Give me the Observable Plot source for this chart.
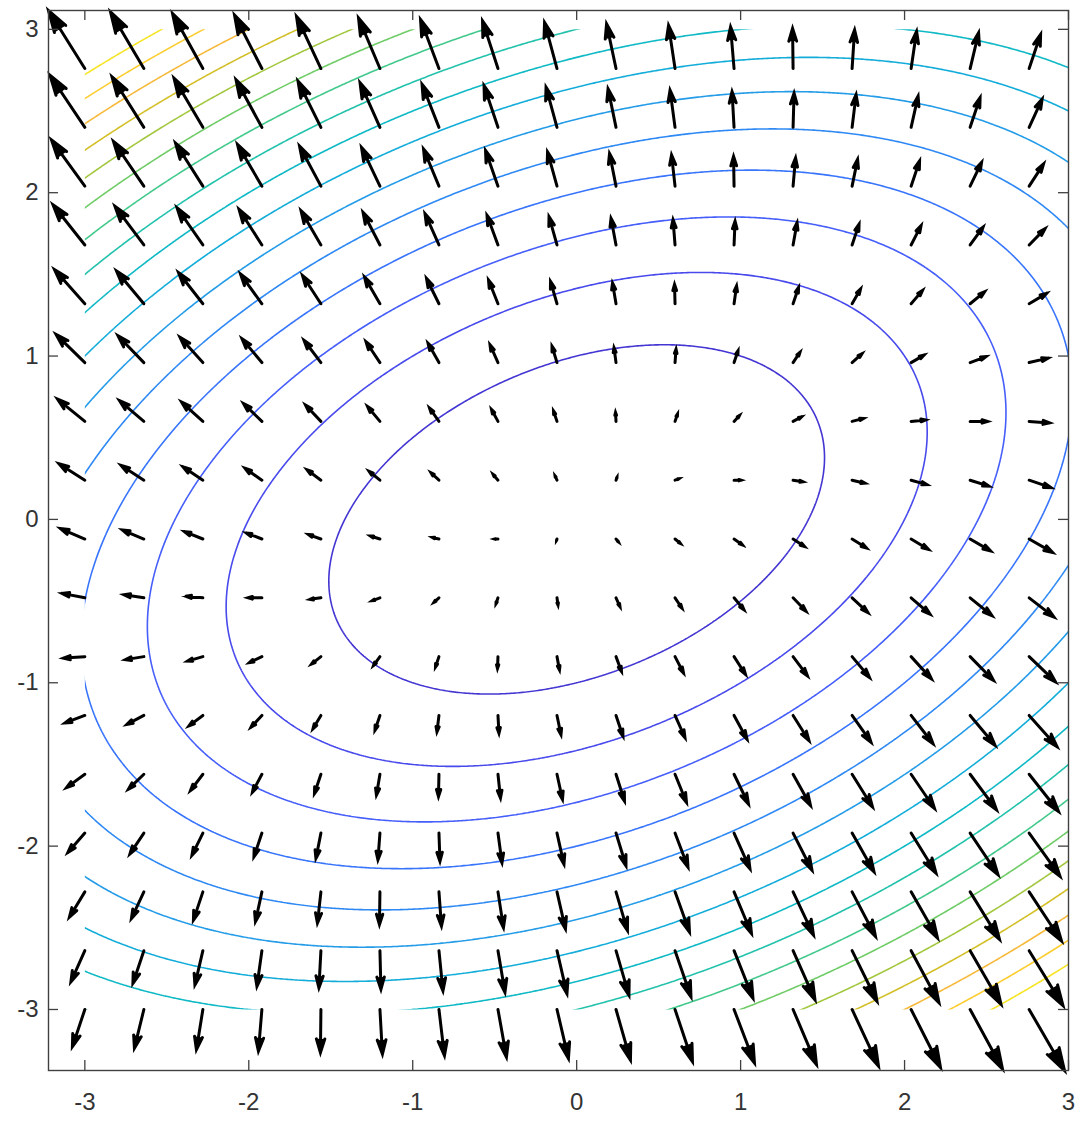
<!DOCTYPE html>
<html>
<head>
<meta charset="utf-8">
<script src="https://cdn.jsdelivr.net/npm/d3@7"></script>
<script src="https://cdn.jsdelivr.net/npm/@observablehq/plot@0.6"></script>
<style>
  html, body { margin: 0; padding: 0; background: #ffffff; }
  #chart svg { display: block; }
</style>
</head>
<body>
<div id="chart"></div>
<script>
// ---- data ----
// quiver grid (arrow tails): -3 : 0.36 : 2.76 in both directions
const xGrid = [-3, -2.64, -2.28, -1.92, -1.56, -1.2, -0.84, -0.48, -0.12, 0.24, 0.6, 0.96, 1.32, 1.68, 2.04, 2.4, 2.76];
const yGrid = [-3, -2.64, -2.28, -1.92, -1.56, -1.2, -0.84, -0.48, -0.12, 0.24, 0.6, 0.96, 1.32, 1.68, 2.04, 2.4, 2.76];
// surface z = a*x^2 + b*x*y + c*y^2 (contours and gradient arrows)
const coefA = 1;
const coefB = -1;
const coefC = 2;
// contour levels
const levels = [2, 4, 6, 8, 10, 12, 14, 16, 18, 20, 22, 24, 26, 28, 30, 32];
// colour limits of the level colouring
const colorLimits = [0, 34];
// contour region
const contourX = [-3, 3];
const contourY = [-3, 3];
// tick labels
const xTicks = [-3, -2, -1, 0, 1, 2, 3];
const yTicks = [-3, -2, -1, 0, 1, 2, 3];
// parula colour map (row index of 64-row table, colour)
const parulaIdx = [0, 4, 8, 12, 16, 20, 24, 28, 32, 36, 40, 44, 48, 52, 56, 60, 63];
const parulaHex = ["#3e26a8", "#4537d5", "#484df0", "#4563fd", "#327cfc", "#2b91ef", "#20a5e3", "#08b5d0",
                   "#19bfb6", "#37c897", "#64cd6f", "#9dc943", "#d1bf27", "#f8ba3d", "#fccf30", "#f5e924", "#f9fb15"];

// ---- derived ----
const surf = (x, y) => coefA * x * x + coefB * x * y + coefC * y * y;
const arrows = [];
for (const y of yGrid) for (const x of xGrid) {
  arrows.push({x, y, u: 2 * coefA * x + coefB * y, v: coefB * x + 2 * coefC * y});
}
// quiver autoscale (longest arrow = 0.9 of the average grid spacing)
const delx = (d3.max(xGrid) - d3.min(xGrid)) / xGrid.length;
const dely = (d3.max(yGrid) - d3.min(yGrid)) / yGrid.length;
const del = delx * delx + dely * dely;
const maxLen = d3.max(arrows, d => Math.sqrt((d.u * d.u + d.v * d.v) / del));
const qs = 0.9 / maxLen;
arrows.forEach(d => { d.x2 = d.x + d.u * qs; d.y2 = d.y + d.v * qs; });

// axis tight
const xDom = [Math.min(contourX[0], d3.min(arrows, d => Math.min(d.x, d.x2))),
              Math.max(contourX[1], d3.max(arrows, d => Math.max(d.x, d.x2)))];
const yDom = [Math.min(contourY[0], d3.min(arrows, d => Math.min(d.y, d.y2))),
              Math.max(contourY[1], d3.max(arrows, d => Math.max(d.y, d.y2)))];

const W = 1082, H = 1121;
const mL = 48, mR = 14, mT = 10, mB = 51;
const plotW = W - mL - mR, plotH = H - mT - mB;
const tickLen = 10;
const axisColor = "#404040";
const lo = colorLimits[0], hi = colorLimits[1];

const chart = Plot.plot({
  width: W,
  height: H,
  marginLeft: mL,
  marginRight: mR,
  marginTop: mT,
  marginBottom: mB,
  style: {fontFamily: "'Liberation Sans', Arial, Helvetica, sans-serif", fontSize: "24px", color: "#333333", background: "#ffffff"},
  x: {domain: xDom},
  y: {domain: yDom},
  color: {
    type: "linear",
    domain: parulaIdx.map(i => lo + (hi - lo) * i / 63),
    range: parulaHex,
    interpolate: "rgb"
  },
  marks: [
    Plot.contour({
      value: surf,
      x1: contourX[0] - 0.5, x2: contourX[1] + 0.5,
      y1: contourY[0] - 0.5, y2: contourY[1] + 0.5,
      thresholds: levels,
      stroke: "value",
      strokeWidth: 1.6
    }),
    Plot.arrow(arrows, {
      x1: "x", y1: "y", x2: "x2", y2: "y2",
      stroke: "#000000",
      fill: "#000000",
      strokeWidth: 3,
      strokeLinejoin: "miter",
      strokeMiterlimit: 4,
      headAngle: 34,
      headLength: 200
    }),
    Plot.frame({stroke: axisColor, strokeWidth: 1.4}),
    Plot.ruleX(xTicks, {insetTop: plotH - tickLen, stroke: axisColor, strokeWidth: 1.3}),
    Plot.ruleX(xTicks, {insetBottom: plotH - tickLen, stroke: axisColor, strokeWidth: 1.3}),
    Plot.ruleY(yTicks, {insetRight: plotW - tickLen, stroke: axisColor, strokeWidth: 1.3}),
    Plot.ruleY(yTicks, {insetLeft: plotW - tickLen, stroke: axisColor, strokeWidth: 1.3}),
    Plot.axisX({ticks: xTicks, tickSize: 0, tickPadding: 22, label: null, tickFormat: d => String(d), fontSize: 24}),
    Plot.axisY({ticks: yTicks, tickSize: 0, tickPadding: 10, label: null, tickFormat: d => String(d), fontSize: 24})
  ]
});

// clip contour lines to the sampled region [-3,3] x [-3,3]
const sx = chart.scale("x"), sy = chart.scale("y");
const cx0 = sx.apply(contourX[0]), cx1 = sx.apply(contourX[1]);
const cy0 = sy.apply(contourY[1]), cy1 = sy.apply(contourY[0]);
const ns = "http://www.w3.org/2000/svg";
const defs = document.createElementNS(ns, "defs");
const cp = document.createElementNS(ns, "clipPath");
cp.setAttribute("id", "contour-clip");
const rect = document.createElementNS(ns, "rect");
rect.setAttribute("x", cx0);
rect.setAttribute("y", cy0);
rect.setAttribute("width", cx1 - cx0);
rect.setAttribute("height", cy1 - cy0);
cp.appendChild(rect);
defs.appendChild(cp);
chart.insertBefore(defs, chart.firstChild);
const cg = chart.querySelector('g[aria-label="contour"]');
if (cg) cg.setAttribute("clip-path", "url(#contour-clip)");

document.getElementById("chart").appendChild(chart);
</script>
</body>
</html>
